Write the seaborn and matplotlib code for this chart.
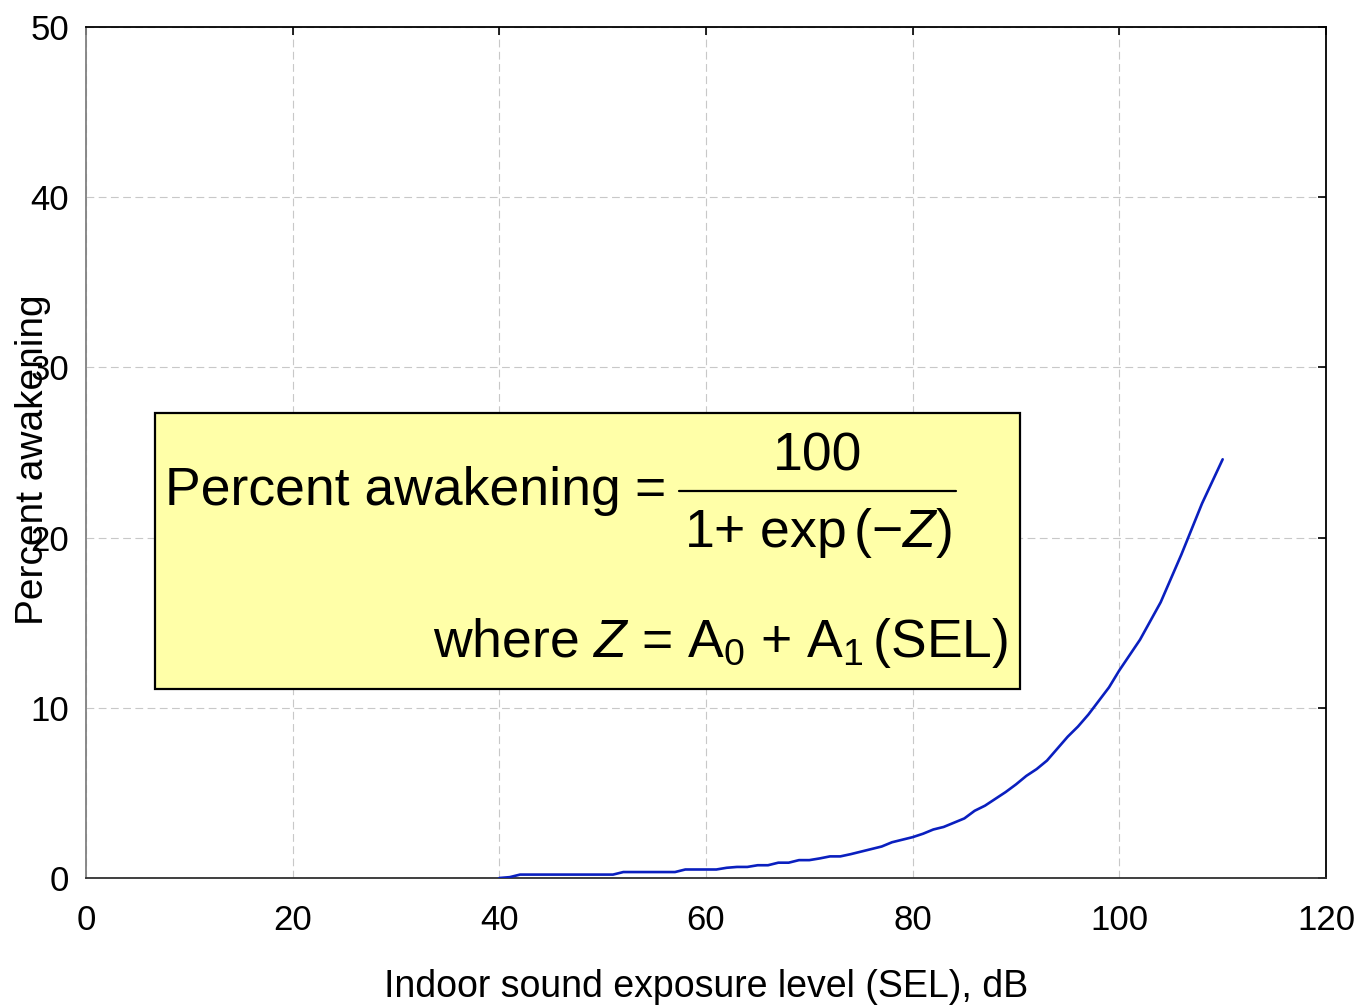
import matplotlib
matplotlib.use("Agg")
import matplotlib.pyplot as plt
import seaborn as sns
import pandas as pd
from matplotlib.patches import Rectangle
from matplotlib.lines import Line2D

# ---- data ----
sel_db = [40, 41, 42, 43, 44, 45, 46, 47, 48, 49, 50, 51, 52, 53, 54, 55, 56, 57,
          58, 59, 60, 61, 62, 63, 64, 65, 66, 67, 68, 69, 70, 71, 72, 73, 74, 75,
          76, 77, 78, 79, 80, 81, 82, 83, 84, 85, 86, 87, 88, 89, 90, 91, 92, 93,
          94, 95, 96, 97, 98, 99, 100, 101, 102, 103, 104, 105, 106, 107, 108, 109, 110]
pct_awake = [0.0, 0.05, 0.2, 0.2, 0.2, 0.2, 0.2, 0.2, 0.2, 0.2, 0.2, 0.2, 0.35, 0.35,
             0.35, 0.35, 0.35, 0.35, 0.5, 0.5, 0.5, 0.5, 0.6, 0.65, 0.65, 0.75, 0.75,
             0.9, 0.9, 1.05, 1.05, 1.15, 1.27, 1.27, 1.4, 1.55, 1.7, 1.85, 2.1, 2.25,
             2.4, 2.6, 2.85, 3.0, 3.25, 3.5, 3.95, 4.25, 4.65, 5.05, 5.5, 6.0, 6.4,
             6.9, 7.6, 8.3, 8.9, 9.6, 10.4, 11.2, 12.2, 13.1, 14.0, 15.1, 16.2, 17.6,
             19.0, 20.5, 22.0, 23.3, 24.6]
x_ticks = [0, 20, 40, 60, 80, 100, 120]
y_ticks = [0, 10, 20, 30, 40, 50]
x_label = "Indoor sound exposure level (SEL), dB"
y_label = "Percent awakening"

df = pd.DataFrame({"SEL": sel_db, "pct": pct_awake})

sns.set_theme(style="white")
plt.rcParams["font.family"] = ["Liberation Sans", "DejaVu Sans"]
plt.rcParams["mathtext.fontset"] = "custom"
plt.rcParams["mathtext.rm"] = "Liberation Sans"
plt.rcParams["mathtext.it"] = "Liberation Sans:italic"
plt.rcParams["mathtext.bf"] = "Liberation Sans:bold"
plt.rcParams["text.color"] = "black"
plt.rcParams["axes.labelcolor"] = "black"
plt.rcParams["xtick.color"] = "black"
plt.rcParams["ytick.color"] = "black"

fig = plt.figure(figsize=(13.65, 10.08), dpi=100)
ax = fig.add_axes([86 / 1365, 130 / 1008, 1240 / 1365, 851 / 1008])

sns.lineplot(data=df, x="SEL", y="pct", ax=ax, color="#0a1fbf", linewidth=1.9,
             zorder=3)

ax.set_xlim(0, 120)
ax.set_ylim(0, 50)
ax.set_xticks(x_ticks)
ax.set_yticks(y_ticks)
ax.grid(True, color="#c8c8c8", linestyle=(0, (7, 4)), linewidth=0.8)
ax.set_axisbelow(True)

ax.tick_params(axis="both", direction="in", length=6, width=1.2, colors="black",
               labelsize=25, labelcolor="black", top=True, right=True)
ax.tick_params(axis="x", pad=19)
ax.tick_params(axis="y", pad=12)

for side, col in [("left", "#808080"), ("bottom", "#303030"),
                  ("top", "black"), ("right", "black")]:
    ax.spines[side].set_visible(True)
    ax.spines[side].set_color(col)
    ax.spines[side].set_linewidth(1.3)

ax.set_xlabel(x_label, fontsize=27, labelpad=23, color="black")
ax.set_ylabel(y_label, fontsize=28, color="black")
ax.yaxis.set_label_coords(-0.028, 0.491)

# ---- equation box ----
box = Rectangle((0.0556, 0.222), 0.698, 0.324, transform=ax.transAxes,
                facecolor="#FFFFA8", edgecolor="black", linewidth=1.6, zorder=5)
ax.add_patch(box)

eq_fs = 38.5
ax.text(0.0637, 0.438, "Percent awakening", transform=ax.transAxes, fontsize=eq_fs,
        ha="left", va="baseline", zorder=6)
ax.text(0.4548, 0.438, "=", transform=ax.transAxes, fontsize=eq_fs,
        ha="center", va="baseline", zorder=6)
ax.add_line(Line2D([0.478, 0.702], [0.4548, 0.4548], transform=ax.transAxes,
                   color="black", linewidth=1.6, zorder=6))
ax.text(0.590, 0.4794, "100", transform=ax.transAxes, fontsize=eq_fs,
        ha="center", va="baseline", zorder=6)
ax.text(0.590, 0.389, r"1+ exp$\,(-Z)$", transform=ax.transAxes,
        fontsize=eq_fs, ha="center", va="baseline", zorder=6)
ax.text(0.7435, 0.2597, r"where $Z$ = A$_0$ + A$_1$$\,$(SEL)",
        transform=ax.transAxes, fontsize=eq_fs, ha="right", va="baseline",
        zorder=6)

fig.savefig("out.png", dpi=100)
